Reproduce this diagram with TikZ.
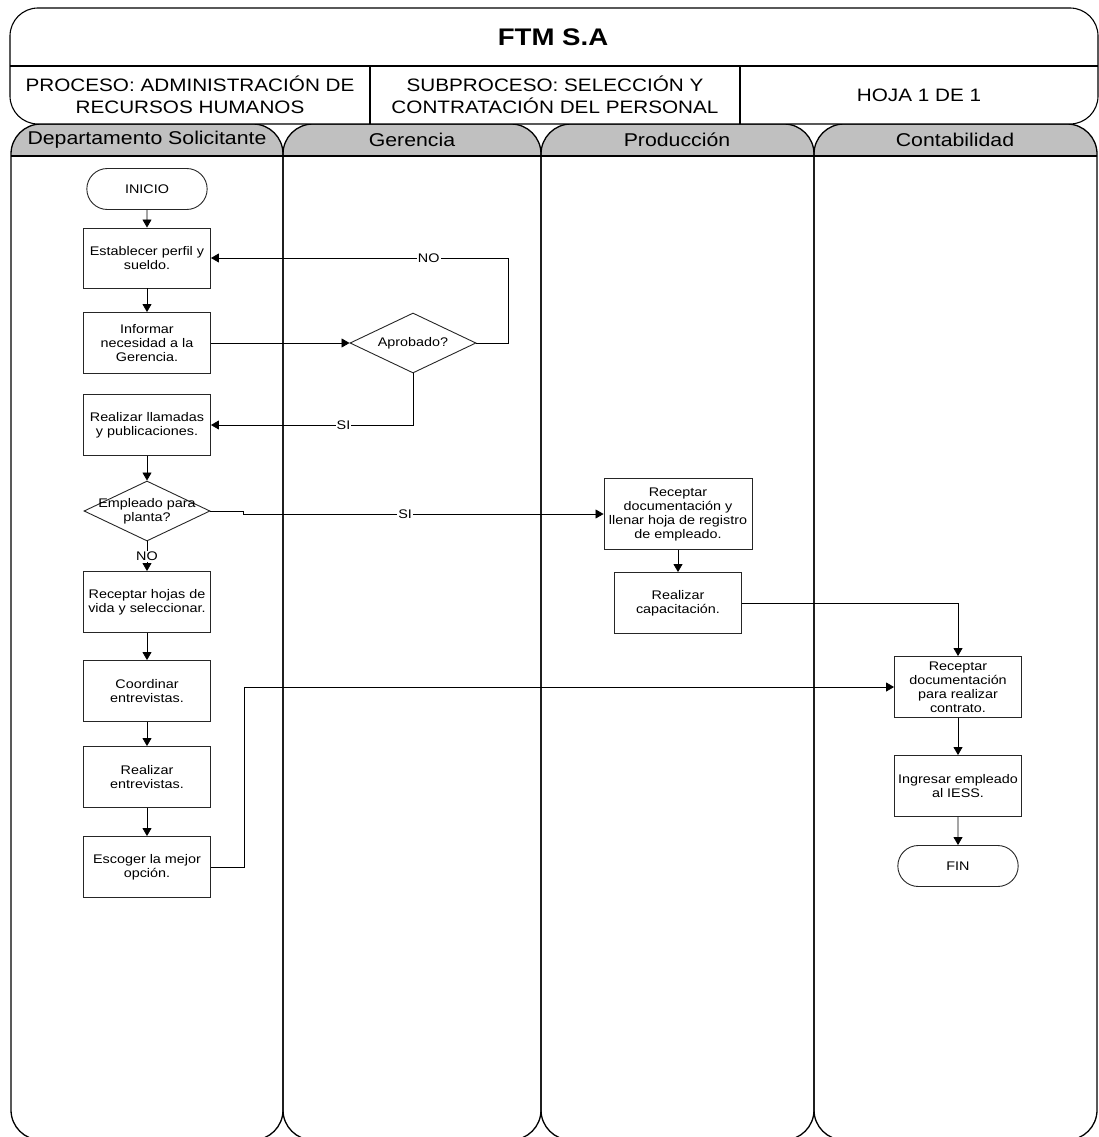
\documentclass[tikz,border=0pt]{standalone}
\usepackage{fontspec}
\setmainfont{Liberation Sans}[FakeStretch=1.15]
\usetikzlibrary{shapes.geometric,shapes.misc,arrows.meta}
\definecolor{hdrgray}{HTML}{C0C0C0}
\begin{document}
\begin{tikzpicture}[x=1pt,y=-1pt,
  font=\fontsize{12.5}{14}\selectfont,
  frame/.style={draw=black,line width=1.1pt},
  lanebox/.style={draw=black,line width=1.3pt,rounded corners=30pt},
  procbox/.style={draw=black!85,line width=0.9pt,rectangle,minimum width=127pt,minimum height=61pt,align=center,inner sep=2pt},
  termbox/.style={draw=black!85,line width=0.9pt,rounded rectangle,minimum width=127pt,minimum height=41pt,align=center},
  decbox/.style={draw=black!85,line width=0.9pt,diamond,inner sep=0pt,minimum width=126pt,minimum height=60pt},
  arr/.style={draw=black,line width=0.8pt,-{Triangle[length=8pt,width=9pt]}},
  conn/.style={draw=black,line width=0.8pt},
  lbl/.style={fill=white,inner sep=1pt},
  hdrtxt/.style={font=\fontsize{18}{21.5}\selectfont,align=center},
  lanetxt/.style={font=\fontsize{18.5}{20}\selectfont}]
\useasboundingbox (0,0) rectangle (1099,1137);

% lanes
\begin{scope}
  \clip (0,124) rectangle (1099,156);
  \fill[hdrgray,rounded corners=30pt] (11,124) rectangle (283,1140);
  \fill[hdrgray,rounded corners=30pt] (283,124) rectangle (541,1140);
  \fill[hdrgray,rounded corners=30pt] (541,124) rectangle (814,1140);
  \fill[hdrgray,rounded corners=30pt] (814,124) rectangle (1097,1140);
\end{scope}
\begin{scope}
  \clip (0,0) rectangle (1099,1137);
  \draw[lanebox] (11,124) rectangle (283,1140);
  \draw[lanebox] (283,124) rectangle (541,1140);
  \draw[lanebox] (541,124) rectangle (814,1140);
  \draw[lanebox] (814,124) rectangle (1097,1140);
\end{scope}
\draw[line width=1.2pt] (11,156) -- (1097,156);

\node[lanetxt] (l1) at (147,140) {Departamento Solicitante};
\node[lanetxt] (l2) at (412,140) {Gerencia};
\node[lanetxt] (l3) at (677,140) {Producción};
\node[lanetxt] (l4) at (955,140) {Contabilidad};

% header
\draw[frame,fill=white,rounded corners=28pt] (10,8) rectangle (1098,124);
\draw[frame] (10,66) -- (1098,66);
\draw[frame] (370,66) -- (370,124);
\draw[frame] (740,66) -- (740,124);
\node[font=\fontsize{24}{28}\selectfont\bfseries] (title) at (553,37) {FTM S.A};
\node[hdrtxt] (proc) at (190,95) {PROCESO: ADMINISTRACIÓN DE\\RECURSOS HUMANOS};
\node[hdrtxt] (sub) at (555,95) {SUBPROCESO: SELECCIÓN Y\\CONTRATACIÓN DEL PERSONAL};
\node[hdrtxt] (hoja) at (919,95) {HOJA 1 DE 1};

% nodes
\node[termbox] (ini) at (147,189) {INICIO};
\node[procbox,minimum height=60pt] (est) at (147,258) {Establecer perfil y\\sueldo.};
\node[procbox] (inf) at (147,343) {Informar\\necesidad a la\\Gerencia.};
\node[decbox,label={center:Aprobado?}] (apr) at (413,343) {};
\node[procbox] (rll) at (147,425) {Realizar llamadas\\y publicaciones.};
\node[decbox,label={[align=center]center:Empleado para\\planta?}] (emp) at (147,511) {};
\node[procbox] (rhv) at (147,602) {Receptar hojas de\\vida y seleccionar.};
\node[procbox] (coo) at (147,691) {Coordinar\\entrevistas.};
\node[procbox] (rea) at (147,777) {Realizar\\entrevistas.};
\node[procbox] (esc) at (147,867) {Escoger la mejor\\opción.};
\node[procbox,minimum width=148pt,minimum height=71pt] (rdl) at (678,514) {Receptar\\documentación y\\llenar hoja de registro\\de empleado.};
\node[procbox] (cap) at (678,603) {Realizar\\capacitación.};
\node[procbox] (rdc) at (958,687) {Receptar\\documentación\\para realizar\\contrato.};
\node[procbox] (ing) at (958,786) {Ingresar empleado\\al IESS.};
\node[termbox] (fin) at (958,866) {FIN};

% connectors
\draw[arr] (ini) -- (est);
\draw[arr] (est) -- (inf);
\draw[arr] (inf.east) -- (apr.west);
\draw[arr] (apr.east) -- ++(32,0) |- node[lbl,pos=0.634]{NO} (est.east);
\draw[arr] (apr.south) |- node[lbl,pos=0.672]{SI} (rll.east);
\draw[arr] (rll) -- (emp.north);
\draw[arr] (emp.south) -- node[lbl]{NO} (rhv.north);
\draw[arr] (emp.east) -- ++(33,0) -- ++(0,3) -- node[lbl,pos=0.449]{SI} (rdl.west);
\draw[arr] (rhv) -- (coo);
\draw[arr] (coo) -- (rea);
\draw[arr] (rea) -- (esc);
\draw[arr] (esc.east) -- ++(33,0) |- (rdc.west);
\draw[arr] (rdl) -- (cap);
\draw[arr] (cap.east) -| (rdc.north);
\draw[arr] (rdc) -- (ing);
\draw[arr] (ing) -- (fin);
\end{tikzpicture}
\end{document}
